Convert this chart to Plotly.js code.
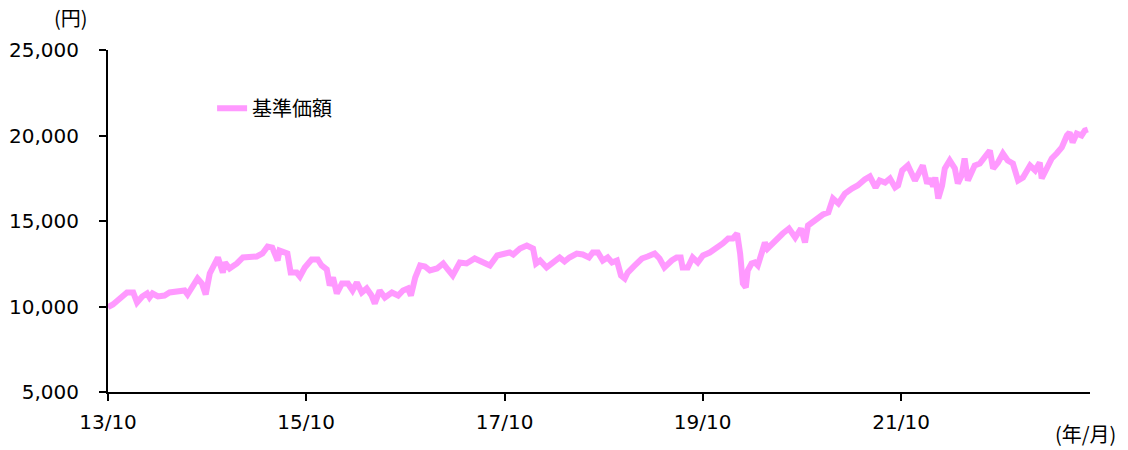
<!DOCTYPE html>
<html>
<head>
<meta charset="utf-8">
<script src="https://cdn.plot.ly/plotly-3.0.1.min.js"></script>
<style>
html,body{margin:0;padding:0;background:#fff;}
#chart{width:1128px;height:450px;}
</style>
</head>
<body>
<div id="chart"></div>
<script>
const seriesName = "基準価額";
const dates = [
"2013-10-01","2013-10-19","2013-11-14","2013-12-10","2014-01-02","2014-01-16","2014-02-04","2014-02-22","2014-03-03","2014-03-14",
"2014-04-03","2014-04-27","2014-05-16","2014-06-15","2014-07-10","2014-07-21","2014-08-09","2014-08-27","2014-09-12","2014-09-26",
"2014-10-11","2014-10-29","2014-11-10","2014-11-28","2014-12-06","2014-12-23","2015-01-19","2015-02-10","2015-03-06","2015-04-02",
"2015-04-23","2015-05-12","2015-05-29","2015-06-18","2015-06-25","2015-07-13","2015-07-24","2015-08-05","2015-08-27","2015-09-08",
"2015-09-26","2015-10-21","2015-11-13","2015-11-27","2015-12-16","2015-12-27","2016-01-08","2016-01-22","2016-02-10","2016-03-03",
"2016-03-20","2016-04-05","2016-04-23","2016-05-11","2016-05-29","2016-06-10","2016-06-28","2016-07-17","2016-08-12","2016-09-04",
"2016-09-22","2016-10-10","2016-10-21","2016-11-06","2016-11-24","2016-12-12","2016-12-30","2017-01-25","2017-02-17","2017-03-06",
"2017-03-24","2017-04-19","2017-05-14","2017-06-13","2017-07-13","2017-08-08","2017-09-04","2017-09-25","2017-10-20","2017-11-02",
"2017-11-27","2017-12-22","2018-01-14","2018-01-25","2018-02-09","2018-03-05","2018-03-26","2018-04-22","2018-05-10","2018-05-28",
"2018-06-24","2018-07-16","2018-08-08","2018-08-22","2018-09-10","2018-09-28","2018-10-16","2018-11-01","2018-11-19","2018-12-04",
"2018-12-18","2018-12-29","2019-01-24","2019-02-19","2019-03-12","2019-04-07","2019-04-25","2019-05-13","2019-06-09","2019-06-27",
"2019-07-12","2019-07-19","2019-08-07","2019-08-25","2019-09-13","2019-10-02","2019-10-27","2019-11-22","2019-12-14","2020-01-03",
"2020-01-20","2020-02-05","2020-02-16","2020-02-26","2020-03-08","2020-03-15","2020-03-29","2020-04-10","2020-04-21","2020-05-06",
"2020-05-17","2020-05-27","2020-06-23","2020-07-22","2020-08-14","2020-09-06","2020-09-27","2020-10-12","2020-10-23","2020-11-18",
"2020-12-17","2021-01-06","2021-01-23","2021-02-12","2021-03-08","2021-04-03","2021-04-24","2021-05-20","2021-06-08","2021-06-29",
"2021-07-14","2021-08-03","2021-08-21","2021-09-09","2021-09-20","2021-10-05","2021-10-26","2021-11-21","2021-12-03","2021-12-20",
"2022-01-05","2022-01-16","2022-01-27","2022-02-04","2022-02-15","2022-03-01","2022-03-11","2022-03-29","2022-04-17","2022-04-28",
"2022-05-12","2022-05-23","2022-06-04","2022-06-18","2022-06-29","2022-07-18","2022-08-06","2022-08-24","2022-09-05","2022-09-23",
"2022-10-11","2022-10-29","2022-11-17","2022-12-06","2022-12-24","2023-01-19","2023-02-07","2023-02-24","2023-03-03","2023-03-21",
"2023-04-09","2023-04-27","2023-05-16","2023-06-04","2023-06-14","2023-06-25","2023-07-10","2023-07-28","2023-08-09","2023-08-20"
];
const navValues = [
9960,10117,10468,10819,10819,10234,10585,10760,10526,10760,
10585,10643,10819,10877,10936,10702,11170,11637,11345,10702,
11930,12515,12866,11988,12573,12222,12515,12866,12866,12924,
13099,13509,13450,12690,13275,13216,13099,11988,11988,11754,
12281,12749,12749,12398,12164,11228,11696,10760,11345,11345,
10936,11404,10819,11053,10643,10175,10936,10526,10819,10643,
10936,11053,10643,11696,12398,12339,12105,12222,12515,12164,
11813,12573,12515,12807,12573,12398,12983,13099,13158,13041,
13392,13567,13392,12515,12690,12281,12573,12866,12632,12866,
13099,13041,12866,13158,13158,12690,12866,12573,12690,11813,
11637,11988,12398,12807,12924,13099,12807,12281,12690,12866,
12866,12281,12281,12866,12573,12983,13158,13392,13684,13977,
13977,14269,13099,11345,11111,12105,12515,12573,12398,13158,
13743,13392,13860,14269,14561,14035,14561,13743,14737,15029,
15380,15497,16316,16023,16608,16901,17076,17427,17602,16959,
17368,17251,17485,16959,17076,17953,18246,17368,17778,18246,
17193,17485,17018,17544,16316,17076,18070,18538,18070,17193,
17661,18655,17368,17778,18246,18362,18830,19123,18070,18421,
18947,18538,18362,17368,17544,18246,17953,18421,17485,18070,
18655,18947,19298,20000,20176,19590,20117,20000,20293,20351
];
const xTickDates = ["2013-10-01","2015-10-01","2017-10-01","2019-10-01","2021-10-01"];
const xTickLabels = ["13/10","15/10","17/10","19/10","21/10"];
const yTickValues = [5000,10000,15000,20000,25000];
const yUnit = "(円)";
const xUnit = "(年/月)";

const tickFont = {family: "Verdana, 'DejaVu Sans', sans-serif", size: 20, color: "#000"};
const cjkFont = {family: "'Noto Sans CJK JP', 'DejaVu Sans', sans-serif", size: 20, color: "#000"};

const trace = {
  x: dates, y: navValues, type: "scatter", mode: "lines", name: seriesName,
  line: {color: "#ff99ff", width: 6}, hoverinfo: "skip"
};

const layout = {
  width: 1128, height: 450,
  margin: {l: 108, r: 38, t: 50, b: 58, pad: 0},
  paper_bgcolor: "#fff", plot_bgcolor: "#fff",
  showlegend: true,
  legend: {x: 0.106, y: 0.83, xanchor: "left", yanchor: "middle", font: cjkFont,
           bgcolor: "rgba(0,0,0,0)", borderwidth: 0},
  xaxis: {
    type: "date", range: ["2013-10-01", "2023-08-28"],
    tickmode: "array", tickvals: xTickDates, ticktext: xTickLabels,
    showgrid: false, zeroline: false, showline: true, linecolor: "#000", linewidth: 2,
    ticks: "outside", ticklen: 7, tickwidth: 2, tickcolor: "#000",
    tickfont: tickFont, ticklabelstandoff: 4
  },
  yaxis: {
    range: [5000, 25000], tickmode: "array", tickvals: yTickValues,
    tickformat: ",d",
    showgrid: false, zeroline: false, showline: true, linecolor: "#000", linewidth: 2,
    ticks: "outside", ticklen: 7, tickwidth: 2, tickcolor: "#000",
    tickfont: tickFont, ticklabelstandoff: 16
  },
  annotations: [
    {text: yUnit, xref: "paper", yref: "paper", x: -0.0377, y: 1.0936,
     xanchor: "center", yanchor: "middle", showarrow: false, font: cjkFont},
    {text: xUnit, xref: "paper", yref: "paper", x: 1.029, y: -0.122,
     xanchor: "right", yanchor: "middle", showarrow: false, font: cjkFont}
  ]
};

Plotly.newPlot("chart", [trace], layout, {displayModeBar: false, staticPlot: true});
</script>
</body>
</html>
